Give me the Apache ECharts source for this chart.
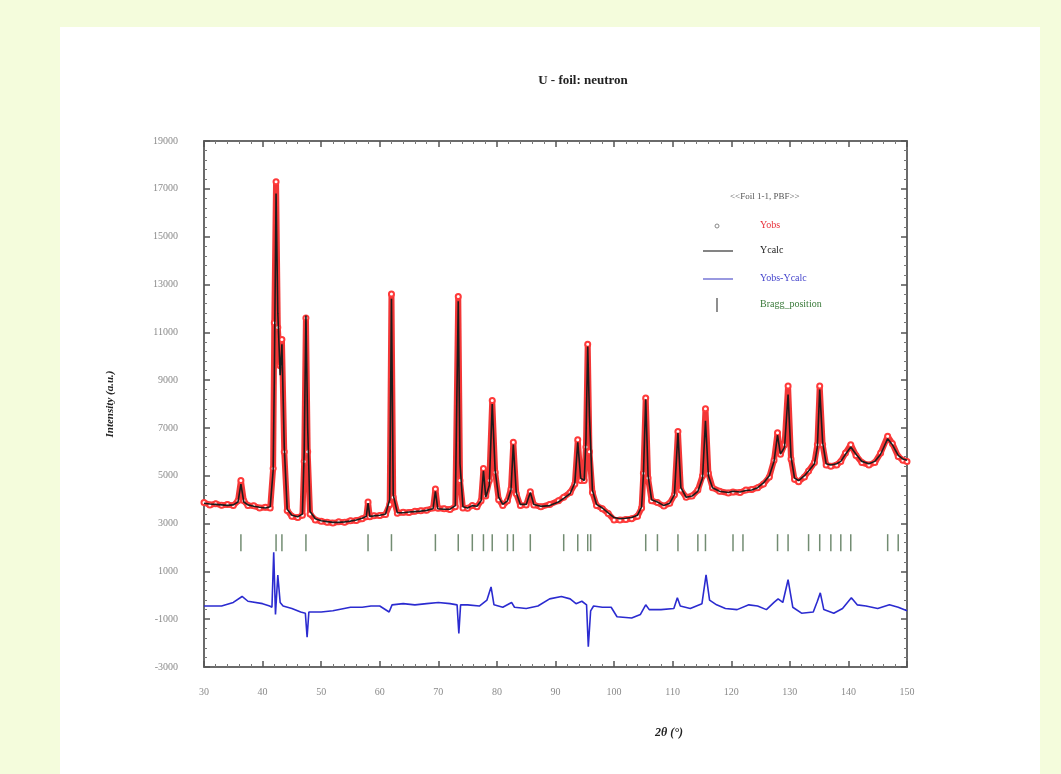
<!DOCTYPE html>
<html>
<head>
<meta charset="utf-8">
<script src="https://cdn.jsdelivr.net/npm/echarts@6/dist/echarts.min.js"></script>
<style>
html,body{margin:0;padding:0;background:#f4fcdc;}
#chart{width:1061px;height:774px;}
</style>
</head>
<body>
<div id="chart"></div>
<script>
// ---- data ----
const twoTheta = [30,31,32,33,34,35,35.8,36.3,36.8,37.5,38.5,39.5,40.5,41.3,41.8,42.0,42.3,42.6,43.0,43.3,43.7,44.2,45,46,46.8,47.1,47.4,47.7,48.1,49,50,51,52,53,54,55,56,57,57.7,58.0,58.3,59,60,61,61.7,62.0,62.3,63,64,65,66,67,68,69.1,69.5,69.9,71,72,72.9,73.4,73.7,74.2,75,75.8,76.6,77.3,77.7,78.1,78.7,79.2,79.7,80.3,81,81.8,82.4,82.8,83.3,84,85,85.7,86.3,87.5,89,90.5,91.4,92.5,93.3,93.8,94.3,94.9,95.2,95.5,95.8,96.3,97,98,99,100,101,102,103,104,104.7,105.0,105.4,105.8,106.4,107.4,108.5,109.5,110.3,110.9,111.4,112.3,113.3,114.3,115.1,115.6,116.1,116.8,118,119.5,120.3,121.5,122.5,123.5,124.5,125.5,126.5,127.3,127.9,128.4,129.1,129.7,130.2,130.8,131.5,132.5,133.2,134.2,134.7,135.1,135.6,136.2,137,138,138.7,139.5,140.4,141.3,142.3,143.5,144.5,145.5,146.7,147.5,148.5,149.3,150];
const yCalc = [3850,3820,3800,3780,3760,3780,3900,4650,3900,3780,3720,3680,3650,3700,5200,9000,16800,11800,9200,10500,6200,3600,3350,3280,3400,6000,11700,7000,3500,3200,3120,3080,3050,3050,3070,3100,3150,3220,3300,3850,3300,3320,3350,3400,4000,12400,4200,3450,3450,3480,3500,3520,3550,3620,4350,3620,3600,3600,3750,12300,5500,3700,3650,3750,3720,3950,5200,4100,4600,8000,5200,4100,3800,3950,4400,6300,4300,3800,3800,4300,3800,3720,3750,3900,4050,4250,4700,6400,4900,4800,6500,10400,7500,4400,3800,3650,3450,3250,3200,3220,3250,3350,3700,5000,8200,5000,4000,3900,3750,3850,4200,6800,4500,4100,4150,4350,4900,7300,5000,4500,4350,4300,4350,4320,4380,4400,4500,4700,5000,5600,6700,5900,6200,8400,5800,4900,4800,5000,5200,5500,6200,8600,6400,5500,5450,5500,5600,5900,6200,5900,5600,5500,5600,5900,6550,6300,5850,5700,5650];
const yObs = [3880,3780,3830,3760,3800,3750,3950,4800,3950,3750,3740,3650,3680,3650,5300,11400,17300,11200,9600,10700,6000,3550,3300,3250,3350,5600,11600,6000,3400,3150,3100,3050,3020,3070,3050,3120,3130,3200,3280,3900,3280,3330,3340,3380,3800,12600,4100,3430,3470,3460,3510,3540,3560,3650,4450,3640,3620,3590,3700,12500,4800,3650,3640,3750,3700,3950,5300,4150,4800,8150,5150,4000,3750,3950,4450,6400,4250,3750,3780,4330,3780,3700,3800,3950,4100,4300,4650,6500,4800,4800,6200,10500,6000,4300,3750,3620,3420,3150,3150,3170,3200,3300,3650,5100,8250,4900,3950,3880,3730,3850,4200,6850,4400,4100,4150,4400,5000,7800,5100,4500,4350,4280,4320,4300,4400,4420,4500,4650,4950,5650,6800,5900,6300,8750,5700,4850,4750,4950,5200,5550,6300,8750,6300,5450,5400,5450,5600,5950,6300,5850,5550,5450,5550,5950,6650,6350,5800,5650,5600];
const diffTheta = [30,33,35,36.5,37.5,40,41.2,41.6,41.9,42.2,42.6,43.0,43.5,45,46.5,47.3,47.6,47.9,50,52,55,57,58.5,60,61.6,62.1,64,66,68,70,72,73.2,73.5,73.8,75,77,78.3,79.0,79.5,81,82.5,83,85,87,89,91,92.5,93.5,94.5,95.3,95.6,96.0,96.5,98,99.5,100.5,103,104.5,105.4,106,108,110.2,110.8,111.3,113,115,115.7,116.3,117.5,119,121,123,124.5,126,127.3,128,128.8,129.7,130.5,132,134,134.7,135.2,135.8,137.5,139,140.5,141.5,143,145,147,148.5,150];
const yDiff = [-450,-450,-300,-50,-250,-350,-450,-500,1800,-800,850,-300,-450,-550,-700,-750,-1750,-700,-700,-650,-500,-500,-450,-450,-700,-400,-350,-400,-350,-300,-350,-400,-1600,-400,-400,-450,-200,350,-400,-500,-300,-500,-550,-450,-150,-50,-150,-350,-250,-400,-2150,-650,-450,-500,-500,-900,-950,-800,-400,-600,-600,-550,-100,-450,-550,-350,850,-200,-400,-550,-600,-400,-450,-600,-300,-150,-300,650,-500,-750,-700,-250,100,-600,-750,-550,-100,-400,-450,-550,-400,-500,-650];
const braggPos = [36.3,42.3,43.3,47.4,58.0,62.0,69.5,73.4,75.8,77.7,79.2,81.8,82.8,85.7,91.4,93.8,95.5,96.0,105.4,107.4,110.9,114.3,115.6,120.3,122.0,127.9,129.7,133.2,135.1,137.0,138.7,140.4,146.7,148.5];
const braggLevel = 2200;
const xTicksMin = 30, xTicksMax = 150, xStep = 10;
const yTicksMin = -3000, yTicksMax = 19000, yStep = 2000;

const chart = echarts.init(document.getElementById('chart'), null, {renderer:'canvas'});
const zip = (a,b) => a.map((v,i)=>[v,b[i]]);
const serif = '"Liberation Serif","DejaVu Serif",serif';

const axisCommon = {
  type:'value',
  axisLine:{show:true, onZero:false, lineStyle:{color:'#6a6a6a', width:2}},
  axisTick:{show:true, inside:true, length:6, lineStyle:{color:'#555', width:1.5}},
  minorTick:{show:true, splitNumber:5, length:3, lineStyle:{color:'#777'}},
  splitLine:{show:false},
  minorSplitLine:{show:false}
};

const option = {
  backgroundColor:'#f4fcdc',
  animation:false,
  title:{
    text:'U - foil: neutron',
    left:578, top:69, textAlign:'center',
    textStyle:{fontFamily:serif, fontWeight:'bold', fontSize:13, color:'#222'}
  },
  grid:{left:204, right:154, top:141, bottom:107, show:false},
  xAxis:[
    Object.assign({}, axisCommon, {
      min:xTicksMin, max:xTicksMax, interval:xStep, position:'bottom',
      axisLabel:{margin:20, color:'#8a8a8a', fontFamily:serif, fontSize:10}
    }),
    Object.assign({}, axisCommon, {
      min:xTicksMin, max:xTicksMax, interval:xStep, position:'top',
      axisLabel:{show:false}
    })
  ],
  yAxis:[
    Object.assign({}, axisCommon, {
      min:yTicksMin, max:yTicksMax, interval:yStep, position:'left',
      name:'Intensity (a.u.)', nameLocation:'middle', nameGap:88, nameRotate:90,
      nameTextStyle:{fontFamily:serif, fontWeight:'bold', fontStyle:'italic', fontSize:11, color:'#222'},
      axisLabel:{margin:26, color:'#8a8a8a', fontFamily:serif, fontSize:10, formatter:v=>String(v)}
    }),
    Object.assign({}, axisCommon, {
      min:yTicksMin, max:yTicksMax, interval:yStep, position:'right',
      axisLabel:{show:false}
    })
  ],
  series:[
    {
      name:'Yobs', type:'line', xAxisIndex:0, yAxisIndex:0,
      data:zip(twoTheta, yObs),
      lineStyle:{color:'rgba(240,20,20,0.85)', width:6},
      symbol:'emptyCircle', symbolSize:5, showSymbol:true,
      itemStyle:{color:'#ff3a3a', borderColor:'#ff3a3a', borderWidth:1},
      z:2
    },
    {
      name:'Ycalc', type:'line', xAxisIndex:0, yAxisIndex:0,
      data:zip(twoTheta, yCalc),
      lineStyle:{color:'#1c1c1c', width:1.6},
      symbol:'none', z:3
    },
    {
      name:'Yobs-Ycalc', type:'line', xAxisIndex:0, yAxisIndex:0,
      data:zip(diffTheta, yDiff),
      lineStyle:{color:'#2b2bd0', width:1.6},
      symbol:'none', z:3
    },
    {
      name:'Bragg_position', type:'scatter', xAxisIndex:0, yAxisIndex:0,
      data:braggPos.map(x=>[x, braggLevel]),
      symbol:'rect', symbolSize:[1.5,17],
      itemStyle:{color:'#4f6f4f'}, z:3
    }
  ],
  graphic:{elements:[
    {type:'rect', z:-10, silent:true, shape:{x:60, y:27, width:980, height:747}, style:{fill:'#ffffff'}},
    {type:'text', left:655, top:727, style:{text:'2θ (°)', fontFamily:serif, fontWeight:'bold', fontStyle:'italic', fontSize:12, fill:'#222'}},
    {type:'text', left:730, top:192, style:{text:'<<Foil 1-1, PBF>>', fontFamily:serif, fontSize:9, fill:'#555'}},
    {type:'circle', shape:{cx:717, cy:226, r:2}, style:{fill:'none', stroke:'#888', lineWidth:1}},
    {type:'text', left:760, top:220, style:{text:'Yobs', fontFamily:serif, fontSize:10, fill:'#e8303a'}},
    {type:'line', shape:{x1:703, y1:251, x2:733, y2:251}, style:{stroke:'#333', lineWidth:1.2}},
    {type:'text', left:760, top:245, style:{text:'Ycalc', fontFamily:serif, fontSize:10, fill:'#222'}},
    {type:'line', shape:{x1:703, y1:279, x2:733, y2:279}, style:{stroke:'#5555cc', lineWidth:1.2}},
    {type:'text', left:760, top:273, style:{text:'Yobs-Ycalc', fontFamily:serif, fontSize:10, fill:'#4444cc'}},
    {type:'line', shape:{x1:717, y1:298, x2:717, y2:312}, style:{stroke:'#444', lineWidth:1.2}},
    {type:'text', left:760, top:299, style:{text:'Bragg_position', fontFamily:serif, fontSize:10, fill:'#3a7a3a'}}
  ]}
};
chart.setOption(option);
</script>
</body>
</html>
